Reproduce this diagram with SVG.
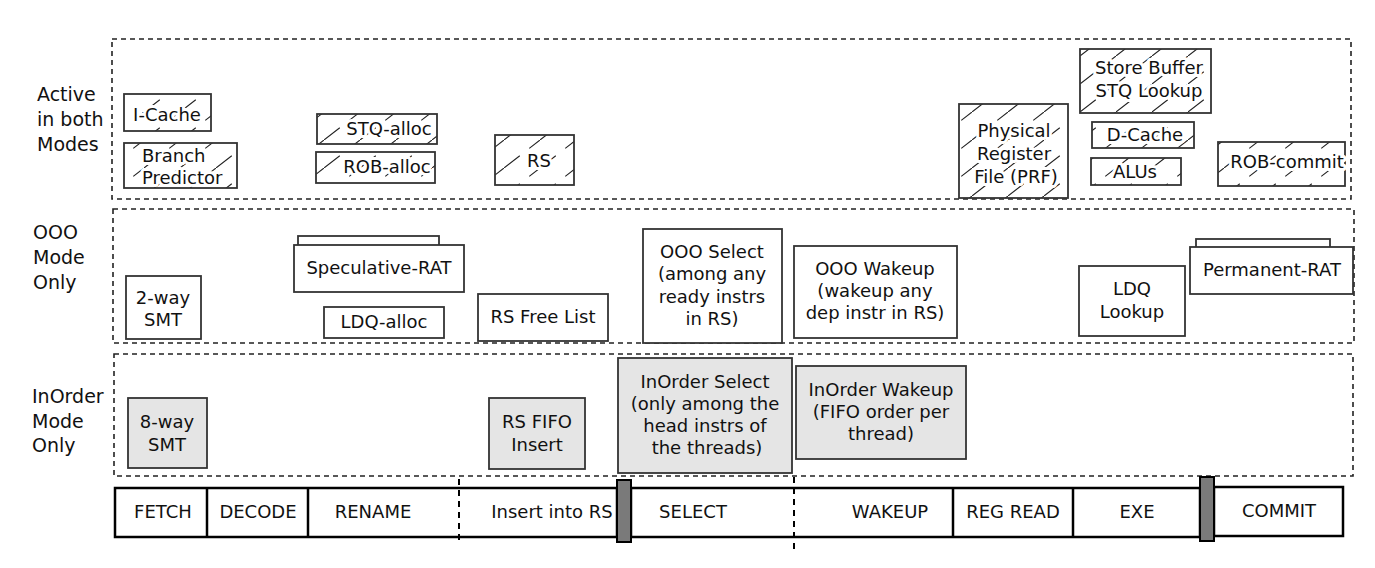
<svg xmlns="http://www.w3.org/2000/svg" width="1375" height="568" viewBox="0 0 1375 568">
<style>
text{font-family:"DejaVu Sans","Liberation Sans",sans-serif;font-size:18px;fill:#111;}
.lbl{font-size:19px;}
.mid{text-anchor:middle;}
.region{fill:none;stroke:#222;stroke-width:1.6;stroke-dasharray:5 4;}
.node{fill:#fff;stroke:#333;stroke-width:1.8;}
.hatch{fill:url(#hatch);stroke:#333;stroke-width:1.8;}
.gray{fill:#e5e5e5;stroke:#333;stroke-width:1.8;}
.halo{paint-order:stroke;stroke:#fff;stroke-width:6px;stroke-linejoin:round;}
.bar{fill:#fff;stroke:#000;stroke-width:2.5;}
.div{stroke:#000;stroke-width:2.5;}
.dv{stroke:#000;stroke-width:2;stroke-dasharray:6 5;}
.latch{fill:#7a7a7a;stroke:#000;stroke-width:2;}
</style>
<defs>
<pattern id="hatch" patternUnits="userSpaceOnUse" width="36" height="28">
<line x1="0" y1="28" x2="36" y2="0" stroke="#222" stroke-width="1.1" stroke-dasharray="20 12"/>
</pattern>
</defs>
<rect width="1375" height="568" fill="#fff"/>

<g id="region-active">
<rect class="region" x="112" y="39" width="1239" height="160"/>
<text class="lbl" x="37" y="101">Active</text>
<text class="lbl" x="37" y="126">in both</text>
<text class="lbl" x="37" y="151">Modes</text>
</g>
<g id="region-ooo">
<rect class="region" x="113" y="209" width="1241" height="134"/>
<text class="lbl" x="33" y="239">OOO</text>
<text class="lbl" x="33" y="264">Mode</text>
<text class="lbl" x="33" y="289">Only</text>
</g>
<g id="region-inorder">
<rect class="region" x="114" y="354" width="1239" height="122"/>
<text class="lbl" x="32" y="403">InOrder</text>
<text class="lbl" x="32" y="428">Mode</text>
<text class="lbl" x="32" y="452">Only</text>
</g>

<g id="icache"><rect class="hatch" x="124" y="94" width="87" height="37"/><text class="mid halo" x="167" y="121">I-Cache</text></g>
<g id="branch-predictor"><rect class="hatch" x="124" y="143" width="113" height="45"/><text class="halo" x="142" y="162">Branch</text><text class="halo" x="142" y="184">Predictor</text></g>
<g id="stq-alloc"><rect class="hatch" x="317" y="114" width="120" height="30"/><text class="mid halo" x="389" y="135">STQ-alloc</text></g>
<g id="rob-alloc"><rect class="hatch" x="316" y="152" width="119" height="31"/><text class="mid halo" x="387" y="173">ROB-alloc</text></g>
<g id="rs"><rect class="hatch" x="495" y="135" width="79" height="50"/><text class="mid halo" x="539" y="167">RS</text></g>
<g id="prf"><rect class="hatch" x="959" y="104" width="109" height="94"/><text class="mid halo" x="1014" y="137">Physical</text><text class="mid halo" x="1014" y="160">Register</text><text class="mid halo" x="1016" y="183">File (PRF)</text></g>
<g id="store-buffer"><rect class="hatch" x="1080" y="49" width="131" height="64"/><text class="mid halo" x="1149" y="74">Store Buffer</text><text class="mid halo" x="1149" y="97">STQ Lookup</text></g>
<g id="dcache"><rect class="hatch" x="1092" y="122" width="102" height="26"/><text class="mid halo" x="1145" y="141">D-Cache</text></g>
<g id="alus"><rect class="hatch" x="1091" y="158" width="90" height="27"/><text class="mid halo" x="1135" y="178">ALUs</text></g>
<g id="rob-commit"><rect class="hatch" x="1218" y="142" width="127" height="44"/><text class="mid halo" x="1287" y="168">ROB-commit</text></g>

<g id="smt2"><rect class="node" x="126" y="276" width="75" height="63"/><text class="mid" x="163" y="304">2-way</text><text class="mid" x="163" y="326">SMT</text></g>
<g id="spec-rat"><rect class="node" x="298" y="236" width="141" height="12"/><rect class="node" x="294" y="245" width="170" height="47"/><text class="mid" x="379" y="274">Speculative-RAT</text></g>
<g id="ldq-alloc"><rect class="node" x="324" y="307" width="120" height="31"/><text class="mid" x="384" y="328">LDQ-alloc</text></g>
<g id="rs-free-list"><rect class="node" x="478" y="294" width="130" height="47"/><text class="mid" x="543" y="323">RS Free List</text></g>
<g id="ooo-select"><rect class="node" x="643" y="229" width="139" height="114"/><text class="mid" x="712" y="258">OOO Select</text><text class="mid" x="712" y="280">(among any</text><text class="mid" x="712" y="303">ready instrs</text><text class="mid" x="712" y="325">in RS)</text></g>
<g id="ooo-wakeup"><rect class="node" x="794" y="246" width="163" height="92"/><text class="mid" x="875" y="275">OOO Wakeup</text><text class="mid" x="875" y="297">(wakeup any</text><text class="mid" x="875" y="319">dep instr in RS)</text></g>
<g id="ldq-lookup"><rect class="node" x="1079" y="266" width="106" height="70"/><text class="mid" x="1132" y="295">LDQ</text><text class="mid" x="1132" y="318">Lookup</text></g>
<g id="perm-rat"><rect class="node" x="1196" y="239" width="134" height="12"/><rect class="node" x="1190" y="247" width="163" height="47"/><text class="mid" x="1272" y="276">Permanent-RAT</text></g>

<g id="smt8"><rect class="gray" x="128" y="398" width="79" height="70"/><text class="mid" x="167" y="428">8-way</text><text class="mid" x="167" y="451">SMT</text></g>
<g id="rs-fifo-insert"><rect class="gray" x="489" y="398" width="96" height="71"/><text class="mid" x="537" y="428">RS FIFO</text><text class="mid" x="537" y="451">Insert</text></g>
<g id="inorder-select"><rect class="gray" x="618" y="358" width="174" height="115"/><text class="mid" x="705" y="388">InOrder Select</text><text class="mid" x="705" y="410">(only among the</text><text class="mid" x="705" y="432">head instrs of</text><text class="mid" x="707" y="454">the threads)</text></g>
<g id="inorder-wakeup"><rect class="gray" x="796" y="366" width="170" height="93"/><text class="mid" x="881" y="396">InOrder Wakeup</text><text class="mid" x="881" y="418">(FIFO order per</text><text class="mid" x="881" y="440">thread)</text></g>

<g id="pipeline">
<rect class="bar" x="115" y="488" width="502" height="49"/>
<rect class="bar" x="631" y="488" width="569" height="49"/>
<rect class="bar" x="1214" y="487" width="129" height="49"/>
<line class="div" x1="207" y1="488" x2="207" y2="537"/>
<line class="div" x1="308" y1="488" x2="308" y2="537"/>
<line class="div" x1="953" y1="488" x2="953" y2="537"/>
<line class="div" x1="1073" y1="488" x2="1073" y2="537"/>
<line class="dv" x1="459" y1="479" x2="459" y2="545"/>
<line class="dv" x1="794" y1="477" x2="794" y2="549"/>
<rect class="latch" x="617" y="480" width="14" height="62"/>
<rect class="latch" x="1200" y="477" width="14" height="64"/>
<text class="mid" x="163" y="518">FETCH</text>
<text class="mid" x="258" y="518">DECODE</text>
<text class="mid" x="373" y="518">RENAME</text>
<text class="mid" x="552" y="518">Insert into RS</text>
<text class="mid" x="693" y="518">SELECT</text>
<text class="mid" x="890" y="518">WAKEUP</text>
<text class="mid" x="1013" y="518">REG READ</text>
<text class="mid" x="1137" y="518">EXE</text>
<text class="mid" x="1279" y="517">COMMIT</text>
</g>
<g id="connectors"></g>
</svg>
